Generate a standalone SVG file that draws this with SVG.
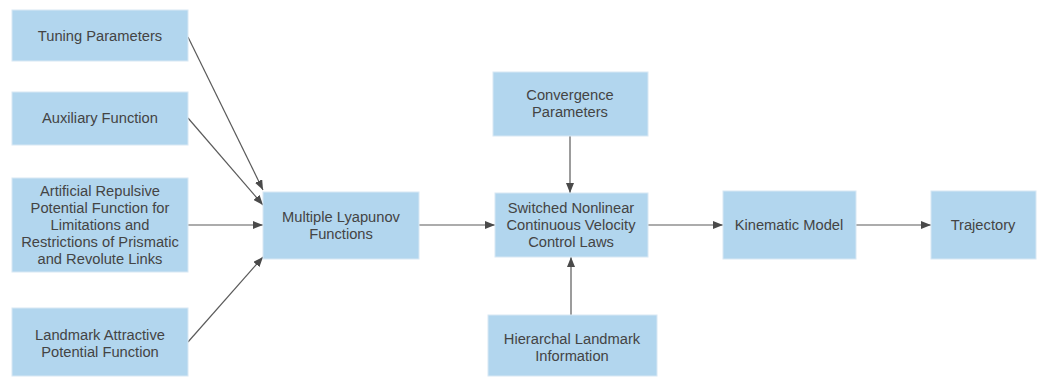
<svg xmlns="http://www.w3.org/2000/svg" width="1040" height="377" viewBox="0 0 1040 377">
<style>
.box{fill:#b2d6ee;stroke:#d8e8f4;stroke-width:1}
.t{font-family:"Liberation Sans",Arial,sans-serif;font-size:14.7px;fill:#444444;text-anchor:middle}
.c{stroke:#5a5a5a;stroke-width:1.2;fill:none;marker-end:url(#ah)}
</style>
<defs>
<marker id="ah" markerWidth="10" markerHeight="8" refX="10" refY="4" orient="auto" markerUnits="userSpaceOnUse">
<path d="M0,0 L10,4 L0,8 Z" fill="#4a4a4a"/>
</marker>
</defs>
<rect width="1040" height="377" fill="#ffffff"/>
<g id="connectors">
<line class="c" x1="188" y1="37" x2="263" y2="190"/>
<line class="c" x1="188" y1="118" x2="263" y2="205"/>
<line class="c" x1="188" y1="225" x2="263" y2="225"/>
<line class="c" x1="188" y1="342" x2="263" y2="257"/>
<line class="c" x1="419" y1="225" x2="495" y2="225"/>
<line class="c" x1="570" y1="136" x2="570" y2="193"/>
<line class="c" x1="571" y1="315" x2="571" y2="257"/>
<line class="c" x1="648" y1="225" x2="723" y2="225"/>
<line class="c" x1="856" y1="225" x2="931" y2="225"/>
</g>
<g id="tuning">
<rect class="box" x="12" y="10" width="176" height="51"/>
<text class="t" x="100" y="40.5">Tuning Parameters</text>
</g>
<g id="auxiliary">
<rect class="box" x="12" y="92" width="176" height="53"/>
<text class="t" x="100" y="123">Auxiliary Function</text>
</g>
<g id="artificial">
<rect class="box" x="12" y="178" width="176" height="94"/>
<text class="t" x="100" y="196">Artificial Repulsive</text>
<text class="t" x="100" y="213">Potential Function for</text>
<text class="t" x="100" y="230">Limitations and</text>
<text class="t" x="100" y="247">Restrictions of Prismatic</text>
<text class="t" x="100" y="264">and Revolute Links</text>
</g>
<g id="landmark">
<rect class="box" x="12" y="308" width="176" height="68"/>
<text class="t" x="100" y="340">Landmark Attractive</text>
<text class="t" x="100" y="357">Potential Function</text>
</g>
<g id="lyapunov">
<rect class="box" x="263" y="192" width="156" height="67"/>
<text class="t" x="341" y="222">Multiple Lyapunov</text>
<text class="t" x="341" y="239">Functions</text>
</g>
<g id="convergence">
<rect class="box" x="493" y="72" width="155" height="64"/>
<text class="t" x="570" y="100">Convergence</text>
<text class="t" x="570" y="117">Parameters</text>
</g>
<g id="switched">
<rect class="box" x="495" y="193" width="153" height="64"/>
<text class="t" x="571" y="213">Switched Nonlinear</text>
<text class="t" x="571" y="230">Continuous Velocity</text>
<text class="t" x="571" y="247">Control Laws</text>
</g>
<g id="hierarchal">
<rect class="box" x="488" y="315" width="169" height="61"/>
<text class="t" x="572" y="344">Hierarchal Landmark</text>
<text class="t" x="572" y="361">Information</text>
</g>
<g id="kinematic">
<rect class="box" x="723" y="191" width="133" height="68"/>
<text class="t" x="789" y="230">Kinematic Model</text>
</g>
<g id="trajectory">
<rect class="box" x="931" y="191" width="105" height="68"/>
<text class="t" x="983" y="230">Trajectory</text>
</g>
</svg>
